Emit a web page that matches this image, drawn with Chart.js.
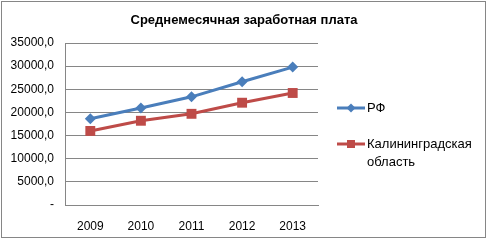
<!DOCTYPE html>
<html>
<head>
<meta charset="utf-8">
<script src="https://cdn.jsdelivr.net/npm/chart.js@4"></script>
<style>
  body { margin: 0; background: #fff; }
  #wrap { width: 488px; height: 240px; position: relative; }
</style>
</head>
<body>
<div id="wrap"><canvas id="wageChart"></canvas></div>
<script>
// Chart data
const years = ['2009', '2010', '2011', '2012', '2013'];
const rfValues = [18638, 20952, 23369, 26629, 29792];
const kaliningradValues = [16000, 18200, 19700, 22100, 24200];
const seriesNames = ['РФ', ['Калининградская', 'область']];
const chartTitle = 'Среднемесячная заработная плата';

const blue = '#4A7EBB';
const red = '#BE4B48';
const gridGray = '#868686';

// Draws the frame, title and the right-hand legend
const decorPlugin = {
    id: 'decor',
    afterDraw(chart) {
        const ctx = chart.ctx;
        ctx.save();
        ctx.strokeStyle = gridGray;
        ctx.lineWidth = 1;
        ctx.strokeRect(1.5, 1.5, 484, 236);

        ctx.fillStyle = '#000';
        ctx.font = 'bold 13px "Liberation Sans", Arial, sans-serif';
        ctx.textAlign = 'center';
        ctx.textBaseline = 'middle';
        ctx.fillText(chartTitle, 244, 20);

        const rows = [108, 144];
        chart.data.datasets.forEach((ds, i) => {
            const y = rows[i];
            ctx.strokeStyle = ds.borderColor;
            ctx.lineWidth = 3;
            ctx.beginPath();
            ctx.moveTo(337, y);
            ctx.lineTo(365, y);
            ctx.stroke();
            ctx.fillStyle = ds.backgroundColor;
            ctx.beginPath();
            if (ds.pointStyle === 'rectRot') {
                ctx.moveTo(351, y - 4.5);
                ctx.lineTo(355.5, y);
                ctx.lineTo(351, y + 4.5);
                ctx.lineTo(346.5, y);
            } else {
                ctx.rect(347, y - 4, 8, 8);
            }
            ctx.closePath();
            ctx.fill();

            ctx.fillStyle = '#000';
            ctx.font = '13px "Liberation Sans", Arial, sans-serif';
            ctx.textAlign = 'left';
            ctx.textBaseline = 'middle';
            const label = [].concat(seriesNames[i]);
            label.forEach((line, j) => ctx.fillText(line, 367, y + j * 18));
        });
        ctx.restore();
    }
};

new Chart(document.getElementById('wageChart'), {
    type: 'line',
    data: {
        labels: years,
        datasets: [{
            label: 'РФ',
            data: rfValues,
            borderColor: blue,
            backgroundColor: blue,
            borderWidth: 3,
            pointStyle: 'rectRot',
            pointRadius: 5.5,
            pointBorderWidth: 0,
            tension: 0
        }, {
            label: 'Калининградская область',
            data: kaliningradValues,
            borderColor: red,
            backgroundColor: red,
            borderWidth: 3,
            pointStyle: 'rect',
            pointRadius: 7,
            pointBorderWidth: 0,
            tension: 0
        }]
    },
    options: {
        responsive: true,
        maintainAspectRatio: false,
        animation: false,
        layout: { padding: { top: 43, right: 170, left: 0, bottom: 0 } },
        plugins: {
            legend: { display: false },
            title: { display: false },
            tooltip: { enabled: false }
        },
        scales: {
            x: {
                offset: true,
                grid: { display: false, drawTicks: false },
                border: { display: true, color: gridGray, width: 1 },
                ticks: {
                    color: '#000',
                    padding: 14,
                    font: { family: '"Liberation Sans", Arial, sans-serif', size: 12 }
                },
                afterFit: scale => { scale.height = 35; }
            },
            y: {
                min: 0,
                max: 35000,
                grid: { color: gridGray, drawTicks: false },
                border: { display: true, color: gridGray, width: 1 },
                ticks: {
                    stepSize: 5000,
                    color: '#000',
                    padding: 11,
                    font: { family: '"Liberation Sans", Arial, sans-serif', size: 12 },
                    callback: v => v === 0 ? '-' : v.toFixed(1).replace('.', ',')
                },
                afterFit: scale => { scale.width = 65; }
            }
        }
    },
    plugins: [decorPlugin]
});
</script>
</body>
</html>
